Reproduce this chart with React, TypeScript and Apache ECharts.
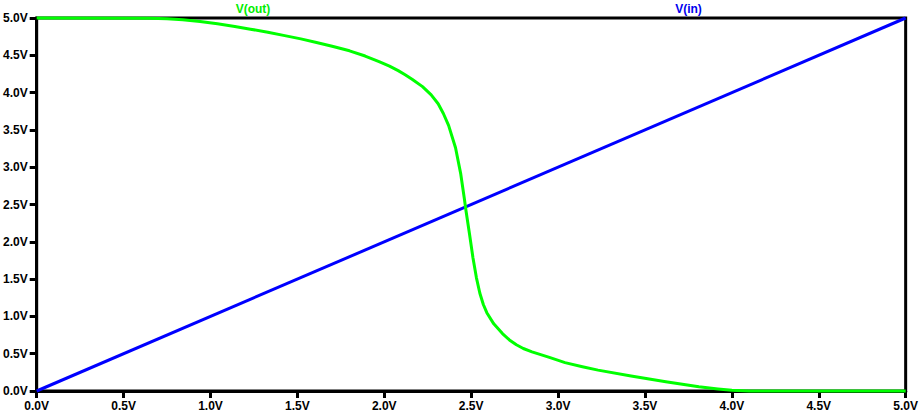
import React, { useEffect, useRef } from "react";
import * as echarts from "echarts";

const vinX = [0, 5];
const vinY = [0, 5];

const voutX = [0, 0.65, 0.75, 0.84, 0.94, 1.04, 1.14, 1.23, 1.33, 1.42, 1.52, 1.61, 1.7, 1.8, 1.89, 1.97, 2.03, 2.08, 2.12, 2.16, 2.22, 2.27, 2.31, 2.34, 2.37, 2.41, 2.44, 2.46, 2.47, 2.49, 2.51, 2.53, 2.55, 2.57, 2.59, 2.63, 2.68, 2.72, 2.76, 2.8, 2.85, 2.95, 3.04, 3.14, 3.23, 3.42, 3.62, 3.81, 3.92, 4.0, 4.1, 5.0];
const voutY = [5.0, 4.995, 4.99, 4.975, 4.952, 4.922, 4.887, 4.85, 4.81, 4.767, 4.72, 4.672, 4.622, 4.56, 4.49, 4.415, 4.355, 4.295, 4.24, 4.18, 4.08, 3.97, 3.85, 3.72, 3.56, 3.26, 2.91, 2.59, 2.42, 2.11, 1.79, 1.52, 1.31, 1.16, 1.05, 0.9, 0.77, 0.685, 0.62, 0.57, 0.525, 0.45, 0.38, 0.325, 0.28, 0.2, 0.125, 0.058, 0.028, 0.01, 0.0, 0.0];

const seriesNames = ["V(out)", "V(in)"];
const axisMin = 0;
const axisMax = 5;
const axisStep = 0.5;

export default function App() {
  const ref = useRef<HTMLDivElement>(null);
  useEffect(() => {
    if (!ref.current) return;
    const chart = echarts.init(ref.current, null, { renderer: "svg" });
    const font = "'Liberation Sans', Arial, sans-serif";
    const fmt = (v: number) => v.toFixed(1) + "V";
    const axisCommon = {
      type: "value" as const,
      min: axisMin,
      max: axisMax,
      interval: axisStep,
      axisLine: { show: true, lineStyle: { color: "#000", width: 3 } },
      axisTick: { show: true, inside: false, length: 7, lineStyle: { color: "#000", width: 3 } },
      splitLine: { show: false },
      axisLabel: {
        formatter: fmt,
        color: "#000",
        fontFamily: font,
        fontWeight: "bold" as const,
        fontSize: 12,
        margin: 9,
      },
    };
    chart.setOption({
      animation: false,
      backgroundColor: "#fff",
      grid: {
        left: 35,
        right: 12.5,
        top: 18,
        bottom: 23,
        show: true,
        borderColor: "#000",
        borderWidth: 3,
        backgroundColor: "#fff",
      },
      xAxis: { ...axisCommon },
      yAxis: { ...axisCommon },
      graphic: [
        {
          type: "text",
          x: 253,
          y: 9,
          style: {
            text: seriesNames[0],
            fill: "#00ee00",
            font: "bold 12px 'Liberation Sans', Arial, sans-serif",
            textAlign: "center",
            textVerticalAlign: "middle",
          },
        },
        {
          type: "text",
          x: 688.5,
          y: 9,
          style: {
            text: seriesNames[1],
            fill: "#0000ee",
            font: "bold 12px 'Liberation Sans', Arial, sans-serif",
            textAlign: "center",
            textVerticalAlign: "middle",
          },
        },
      ],
      series: [
        {
          name: seriesNames[1],
          type: "line",
          data: vinX.map((x, i) => [x, vinY[i]]),
          showSymbol: false,
          clip: false,
          lineStyle: { color: "#0000ff", width: 3 },
          z: 3,
        },
        {
          name: seriesNames[0],
          type: "line",
          data: voutX.map((x, i) => [x, voutY[i]]),
          showSymbol: false,
          clip: false,
          smooth: false,
          lineStyle: { color: "#00ff00", width: 3, join: "round" },
          z: 4,
        },
      ],
    });
    return () => chart.dispose();
  }, []);
  return (
    <div
      ref={ref}
      style={{ position: "fixed", left: 0, top: 0, width: 921, height: 414 }}
    />
  );
}
